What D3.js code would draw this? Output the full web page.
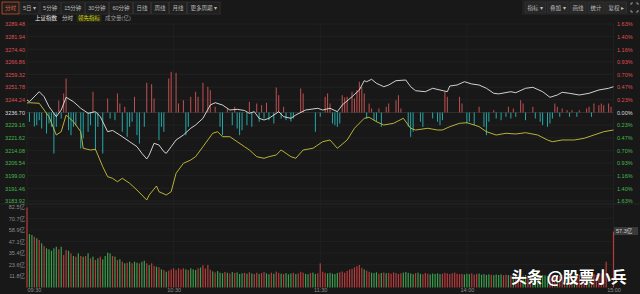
<!DOCTYPE html>
<html>
<head>
<meta charset="utf-8">
<script src="https://cdn.jsdelivr.net/npm/d3@7"></script>
<style>
body{margin:0;background:#181818;}
svg{display:block;font-family:"Liberation Sans","Noto Sans CJK SC",sans-serif;}
</style>
</head>
<body>
<svg id="chart" width="640" height="294"></svg>
<script>
// ---- data ----
var preClose = 3236.70;
var priceTicks = [3289.48,3281.94,3274.40,3266.86,3259.32,3251.78,3244.24,3236.70,3229.16,3221.62,3214.08,3206.54,3199.00,3191.46,3183.92];
var volTicks = [11.8,23.6,35.4,47.1,58.9,70.7,82.5];
var timeTicks = [0,60,120,180,240];
var timeLabels = ["09:30","10:30","11:30","14:00","15:00"];

var tabs = ["分时","5日 ▾","5分钟","15分钟","30分钟","60分钟","日线","周线","月线","更多周期 ▾"];
var tools = ["指标 ▾","叠加 ▾","画线","统计","复权 ▸"];
var legendNames = ["上证指数","分时","领先指标","成交量(亿)"];

// white line: index price (minute, value)
var priceMin = [0,1,5,7,9,12,14,16,19,22,25,28,30,33,35,38,42,45,47,49,50,52,54,56,57,59,61,64,67,69,72,75,77,80,83,86,89,91,93,95,97,99,103,105,108,110,114,119,121,124,127,129,133,136,138,139,141,143,146,148,151,155,157,159,163,166,169,172,173,176,179,182,185,188,191,193,198,200,204,207,211,214,217,219,222,226,230,234,238,240];
var priceVal = [3244.16,3243.14,3249.11,3246.12,3240.16,3234.20,3238.19,3245.77,3243.14,3239.21,3236.22,3237.18,3234.20,3225.25,3226.00,3223.28,3219.29,3216.31,3212.37,3208.97,3211.36,3218.33,3217.32,3213.32,3212.37,3216.31,3220.30,3223.28,3227.28,3229.25,3233.24,3241.17,3242.55,3241.17,3238.19,3238.60,3237.90,3236.22,3237.18,3233.24,3232.23,3233.24,3237.18,3234.20,3233.24,3235.21,3238.19,3239.21,3238.19,3239.21,3237.18,3241.17,3246.12,3250.12,3255.67,3255.07,3256.50,3254.12,3252.09,3253.10,3255.67,3256.08,3252.09,3249.70,3249.11,3251.13,3250.12,3249.11,3252.50,3253.10,3255.07,3253.70,3253.10,3251.13,3248.15,3247.80,3249.11,3248.51,3251.13,3251.73,3249.11,3245.77,3247.14,3248.75,3248.15,3247.14,3248.15,3250.12,3251.13,3252.09];

// yellow line: leading indicator (minute, value)
var leadMin = [0,1,5,7,9,12,14,16,19,22,23,26,28,29,31,33,35,37,39,42,45,47,49,50,53,54,57,59,61,64,67,69,72,76,78,80,83,86,89,91,94,97,99,102,104,108,110,113,117,121,124,127,131,134,138,140,143,146,150,154,157,159,164,168,170,173,177,180,183,185,188,192,196,200,204,209,213,215,219,224,228,232,236,240];
var leadVal = [3242.37,3242.55,3242.19,3238.19,3234.20,3223.28,3225.25,3235.21,3231.21,3225.25,3215.35,3214.34,3214.75,3211.36,3204.38,3198.41,3197.46,3195.43,3197.46,3194.48,3190.48,3187.50,3184.52,3187.50,3192.87,3189.47,3187.50,3189.47,3200.44,3206.41,3208.37,3210.34,3216.31,3224.30,3225.25,3222.27,3222.27,3219.29,3216.31,3214.34,3210.34,3209.39,3210.34,3211.36,3214.34,3210.34,3209.39,3214.34,3215.35,3219.29,3220.30,3215.35,3220.30,3227.28,3233.24,3233.84,3231.21,3229.25,3230.26,3233.24,3227.28,3226.26,3227.28,3226.26,3226.26,3228.23,3230.26,3230.62,3229.25,3228.23,3225.25,3223.28,3224.30,3223.88,3224.66,3223.28,3220.30,3219.29,3220.30,3220.30,3221.32,3223.28,3225.25,3226.26];

// red / cyan strength bars around the previous close
var buyMin = [13,15,16,27,33,37,38,40,44,49,51,52,58,59,61,62,64,67,69,70,72,74,75,77,82,85,91,94,96,98,102,103,105,112,113,122,123,124,129,130,131,133,134,135,136,137,138,140,141,144,147,148,151,152,153,171,172,177,178,185,191,197,199,202,203,207,216,217,219,221,223,226,229,230,232,234,235,236,238,239];
var buyVal = [12,19,34,20.7,14,19,9,5.7,15.7,29.7,28.3,14,34,40.7,39.7,9,12.3,15.7,20.7,15.7,29.7,25.7,22.3,5.7,4,5.7,10.7,9,7.3,9.7,25,17.3,5.7,24,19,15.7,19,9,17.3,15,15.7,20.7,14,22.3,30.7,25.7,19,9,4,4,5.7,9,12.3,17.3,4,20.7,15.7,15.7,9,5.7,2.3,5.7,4,12.3,9,5.7,9,5.7,4,2.3,2.3,2.3,4,5.7,9,7.3,9,7.3,9,5.7];
var sellMin = [1,3,4,5,6,8,9,10,11,12,14,17,18,19,20,22,23,25,26,28,29,31,34,36,39,41,42,43,45,46,48,54,55,56,65,66,79,80,84,86,87,88,90,92,95,97,99,101,104,106,108,109,118,120,125,126,127,128,139,142,143,145,156,157,158,161,162,166,168,169,170,180,181,183,187,188,189,192,194,196,198,200,204,208,210,211,213,214,215,218,222,225,231];
var sellVal = [9.3,14,12.7,7.7,16,21,11,14.3,41,14.3,6,17.7,22.7,14.3,12.7,36,26,19.3,12.7,37.7,14.3,41,6,7.7,19.3,24.3,14.3,9.3,22.7,31,14.3,27.7,14.3,19.3,22.7,14.3,14.3,22.7,12.7,16,22.7,17.7,12.7,14.3,9.3,6,7.7,11,6,7.7,9,6,19.3,4.3,11,12.7,14.3,11,6,7.7,9.3,14.3,14.3,24.3,19.3,9.3,14.3,6,9.3,12.7,7.7,11,9.3,12.7,14.3,22.7,9.3,6,7.7,4.3,6,4.3,7.7,6,9.3,12.7,14.3,11,6,4.3,4.3,4.3,4.3];

// volume per minute (亿) and direction r/g
var volVal = [82.0,
54.8,53.8,52.0,50.4,48.7,45.3,42.5,40.1,39.1,37.7,
40.1,41.8,39.1,41.8,33.3,38.4,37.7,35.0,32.3,31.6,
35.0,32.3,31.6,32.3,35.0,29.9,31.6,28.2,29.9,31.6,
28.9,32.3,35.7,35.0,32.3,31.6,28.2,28.9,26.4,24.8,
25.4,26.4,24.8,26.4,25.4,24.8,26.4,27.5,24.8,23.1,
24.8,22.0,21.3,20.7,18.6,17.9,16.2,17.2,18.6,19.7,
17.9,19.7,18.6,19.7,18.6,17.9,19.7,18.6,17.9,19.7,
20.5,22.8,19.4,23.1,18.2,16.5,15.4,16.8,15.2,14.6,
16.0,15.1,14.3,15.8,14.9,15.5,13.9,14.6,15.0,14.2,
15.6,14.4,13.8,15.1,14.0,14.8,15.9,14.5,13.6,15.2,
14.1,16.3,15.0,14.2,13.9,14.7,13.5,14.4,15.0,13.8,
14.5,16.1,15.2,14.0,13.7,14.9,15.3,13.9,14.6,24.8,
16.2,15.1,14.4,15.0,14.2,13.8,14.9,15.6,16.4,15.2,
17.0,18.4,19.1,20.6,21.8,23.0,20.2,18.5,17.4,16.1,
15.2,14.8,15.6,14.1,14.9,15.4,14.6,15.0,14.2,15.5,
14.8,13.9,14.6,15.3,16.0,15.1,14.4,13.8,14.7,15.2,
14.0,13.6,14.8,14.1,13.5,14.3,13.9,14.5,13.7,14.2,
15.0,14.4,13.8,14.6,15.3,14.1,13.6,14.0,13.4,14.2,
13.8,14.5,13.2,13.9,14.3,13.1,13.7,12.9,13.5,13.0,
12.6,13.3,12.8,13.4,12.5,13.1,12.7,12.2,13.0,12.4,
13.2,12.6,12.1,12.8,12.3,13.0,12.5,11.9,12.6,12.2,
12.9,12.4,11.8,12.5,12.0,12.7,12.3,11.7,12.4,12.0,
12.6,12.2,11.9,12.5,12.1,12.8,12.3,12.9,13.4,12.6,
13.1,13.8,12.9,13.5,14.2,14.6,26.4,0,0,57.3];
var volDir = "r" +
  "ggrgrgrggg" + "ggrgrrgrgr" + "grgrgrgrgr" + "ggggrgrgrg" +
  "rgrggrggrg" + "rrgrgrgrrr" + "rrrrgrgggr" + "grrrrgrggg" +
  "rgrgrgggrg" + "rgrrgrrggr" + "grrgrgggrg" + "rrrggrggrr" +
  "rrgggggrrr" + "rrrrrrrgrr" + "gggrgrgrrr" + "rrrgggggrg" +
  "grrrgggggr" + "rrrrrrrrgg" + "grrrgggggr" + "ggggrrgrgr" +
  "rrggrrgggg" + "gggrrrgrrr" + "grrgrrrrrg" + "rrrrrrrggr";
var lastVol = 57.3;

// ---- chart ----
var svg = d3.select("#chart");
var x = d3.scaleLinear().domain([0,240]).range([27,613.5]);
var y = d3.scaleLinear().domain([3183.92,3289.48]).range([201,24]);
var yForce = d3.scaleLinear().domain([-45,45]).range([y(preClose)+45, y(preClose)-45]);
var yVol = d3.scaleLinear().domain([0,82.5]).range([287.5,207]);

svg.append("rect").attr("width",640).attr("height",294).attr("fill","#181818");

// header row with period tabs
var tabG = svg.append("g").attr("font-size","5.5px");
var tx = 2;
tabs.forEach(function(t,i){
  var g = tabG.append("g");
  var r = g.append("rect").attr("y",2).attr("height",12)
    .attr("fill","#1f1f1f")
    .attr("stroke", i==0 ? "#c8502a" : "#333")
    .attr("stroke-width",0.8);
  var txt = g.append("text").attr("y",10).attr("fill", i==0 ? "#e0603a" : "#b8b8b8").text(t);
  var w = txt.node().getComputedTextLength() + 6;
  r.attr("x",tx).attr("width",w);
  txt.attr("x",tx+3);
  tx += w + 1;
});

svg.append("rect").attr("x",522).attr("y",0).attr("width",118).attr("height",15).attr("fill","#202020");
var toolG = svg.append("g").attr("font-size","5.5px");
var ox = 525;
tools.forEach(function(t){
  var g = toolG.append("g");
  var r = g.append("rect").attr("y",2).attr("height",11).attr("fill","#262626").attr("stroke","#383838").attr("stroke-width",0.6);
  var txt = g.append("text").attr("y",9.8).attr("fill","#bdbdbd").text(t);
  var w = txt.node().getComputedTextLength() + 5;
  r.attr("x",ox).attr("width",w);
  txt.attr("x",ox+2.5);
  ox += w + 2;
});
// fullscreen corners icon
svg.append("path")
  .attr("d","M631,5v-2h2 M636,3h2v2 M638,10v2h-2 M633,12h-2v-2")
  .attr("fill","none").attr("stroke","#aaa").attr("stroke-width",0.8);

// legend row
var legColors = ["#eeeeee","#cfcfcf","#d6d21e","#9a9a9a"];
var lx = 35;
var legG = svg.append("g").attr("font-size","5.5px");
legendNames.forEach(function(t,i){
  var bg = legG.append("rect");
  var txt = legG.append("text").attr("x",lx).attr("y",20)
    .attr("fill",legColors[i]).text(t);
  var w = txt.node().getComputedTextLength();
  if (i==2) {
    bg.attr("x",lx-1.5).attr("y",15).attr("width",w+3).attr("height",7).attr("fill","#262a12");
  }
  lx += w + 5;
});

// grid lines
var grid = svg.append("g");
grid.selectAll("line.h").data(priceTicks).enter().append("line")
  .attr("class","h")
  .attr("x1",x(0)).attr("x2",x(240))
  .attr("y1",function(d){return y(d);}).attr("y2",function(d){return y(d);})
  .attr("stroke",function(d){return d==preClose ? "#383838" : "#252525";})
  .attr("stroke-width",0.7);
grid.selectAll("line.v").data(timeTicks).enter().append("line")
  .attr("class","v")
  .attr("x1",function(d){return x(d);}).attr("x2",function(d){return x(d);})
  .attr("y1",y(3289.48)).attr("y2",yVol(0))
  .attr("stroke","#242424").attr("stroke-width",0.7);
grid.selectAll("line.vh").data(volTicks).enter().append("line")
  .attr("class","vh")
  .attr("x1",x(0)).attr("x2",x(240))
  .attr("y1",function(d){return yVol(d);}).attr("y2",function(d){return yVol(d);})
  .attr("stroke","#232323").attr("stroke-width",0.7);
grid.append("line").attr("x1",0).attr("x2",640).attr("y1",204).attr("y2",204)
  .attr("stroke","#2c2c2c").attr("stroke-width",0.8);

// strength bars
svg.append("g").selectAll("line").data(buyMin).enter().append("line")
  .attr("x1",function(d){return x(d);}).attr("x2",function(d){return x(d);})
  .attr("y1",yForce(0))
  .attr("y2",function(d,i){return yForce(buyVal[i]);})
  .attr("stroke","#c05050").attr("stroke-width",1);
svg.append("g").selectAll("line").data(sellMin).enter().append("line")
  .attr("x1",function(d){return x(d);}).attr("x2",function(d){return x(d);})
  .attr("y1",yForce(0))
  .attr("y2",function(d,i){return yForce(-sellVal[i]);})
  .attr("stroke","#26a8a8").attr("stroke-width",1);

// lines
var priceLine = d3.line().x(function(d){return x(d[0]);}).y(function(d){return y(d[1]);}).curve(d3.curveLinear);
svg.append("path")
  .attr("d",priceLine(d3.zip(leadMin,leadVal)))
  .attr("fill","none").attr("stroke","#c9c23a").attr("stroke-width",0.9);
svg.append("path")
  .attr("d",priceLine(d3.zip(priceMin,priceVal)))
  .attr("fill","none").attr("stroke","#e4e4e4").attr("stroke-width",0.9);

// volume bars
svg.append("g").selectAll("rect").data(volVal).enter().append("rect")
  .attr("x",function(d,i){return x(i)-0.6;})
  .attr("width",1.2)
  .attr("y",function(d){return yVol(d);})
  .attr("height",function(d){return yVol(0)-yVol(d);})
  .attr("fill",function(d,i){return volDir[i]=="r" ? "#b83c3c" : "#3a9e4c";});

// axes
function styleAxis(g){
  g.select(".domain").remove();
  g.selectAll("text").attr("font-size","5.5px").attr("font-family","Liberation Sans, sans-serif");
}
function priceColor(d){
  return d > preClose ? "#dc5252" : (d < preClose ? "#45b84c" : "#dddddd");
}
svg.append("g").attr("transform","translate(26,0)")
  .call(d3.axisLeft(y).tickValues(priceTicks).tickSize(0).tickPadding(1).tickFormat(d3.format(".2f")))
  .call(styleAxis)
  .selectAll("text").attr("fill",priceColor);
svg.append("g").attr("transform","translate(615,0)")
  .call(d3.axisRight(y).tickValues(priceTicks).tickSize(0).tickPadding(2)
    .tickFormat(function(d){return Math.abs((d/preClose-1)*100).toFixed(2)+"%";}))
  .call(styleAxis)
  .selectAll("text").attr("fill",priceColor);
svg.append("g").attr("transform","translate(26,0)")
  .call(d3.axisLeft(yVol).tickValues(volTicks).tickSize(0).tickPadding(1)
    .tickFormat(function(d){return d.toFixed(1)+"亿";}))
  .call(styleAxis)
  .selectAll("text").attr("fill","#8c8c8c").attr("font-family","Liberation Sans, Noto Sans CJK SC, sans-serif");
var xAxis = svg.append("g").attr("transform","translate(0,287.5)")
  .call(d3.axisBottom(x).tickValues(timeTicks).tickSize(0).tickPadding(1)
    .tickFormat(function(d,i){return timeLabels[i];}))
  .call(styleAxis);
xAxis.selectAll("text").attr("fill","#8c8c8c")
  .attr("text-anchor",function(d,i){return i==0 ? "start" : "middle";});

// last volume marker
svg.append("rect").attr("x",614).attr("y",yVol(lastVol)-4.5).attr("width",24).attr("height",8).attr("fill","#3a3a3a");
svg.append("text").attr("x",616).attr("y",yVol(lastVol)+1.8).attr("font-size","5.5px")
  .attr("fill","#d0d0d0").text(lastVol.toFixed(1)+"亿");

// watermark
svg.append("text").attr("x",511).attr("y",283)
  .attr("font-family","Noto Sans CJK SC, sans-serif").attr("font-size","16px").attr("font-weight","bold")
  .attr("fill","#ffffff").attr("stroke","#000").attr("stroke-opacity",0.35).attr("stroke-width",1.2)
  .attr("paint-order","stroke")
  .text("头条 @股票小兵");
</script>
</body>
</html>
